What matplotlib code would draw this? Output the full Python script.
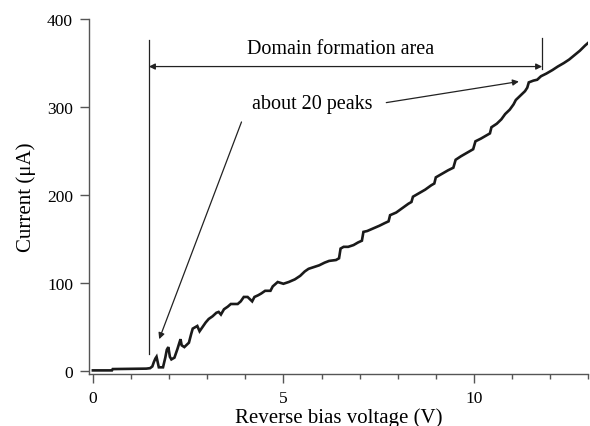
import matplotlib
matplotlib.use("Agg")
import matplotlib.pyplot as plt

# I-V sweep under reverse bias (V, uA)
voltage = [0.00, 0.50, 0.52, 1.40, 1.50, 1.56, 1.60, 1.64, 1.67, 1.70, 1.73, 1.84,
           1.90, 1.94, 1.98, 2.02, 2.06, 2.14, 2.22, 2.27, 2.30, 2.33, 2.40, 2.52,
           2.58, 2.62, 2.70, 2.74, 2.80, 2.88, 2.96, 3.04, 3.14, 3.24, 3.30, 3.36,
           3.44, 3.54, 3.62, 3.80, 3.88, 3.96, 4.06, 4.18, 4.24, 4.34, 4.42, 4.52,
           4.66, 4.72, 4.85, 5.00, 5.14, 5.30, 5.44, 5.56, 5.66, 5.80, 5.94, 6.08,
           6.20, 6.38, 6.46, 6.50, 6.58, 6.70, 6.84, 6.96, 7.06, 7.10, 7.20, 7.36,
           7.52, 7.66, 7.76, 7.80, 7.96, 8.12, 8.28, 8.36, 8.40, 8.56, 8.72, 8.88,
           8.96, 9.00, 9.16, 9.32, 9.46, 9.52, 9.66, 9.82, 9.98, 10.04, 10.18,
           10.34, 10.42, 10.46, 10.60, 10.72, 10.82, 10.94, 11.04, 11.10, 11.22,
           11.34, 11.40, 11.44, 11.56, 11.66, 11.76, 11.90, 12.06, 12.20, 12.36,
           12.50, 12.64, 12.78, 12.92, 13.00]
current = [0.5, 0.5, 2, 2.5, 3, 5, 10, 14, 16, 10, 4, 4,
           15, 24, 27, 16, 13, 15, 25, 32, 36, 29, 27, 32,
           42, 48, 50, 51, 45, 50, 55, 59, 62, 66, 67, 64,
           70, 73, 76, 76, 79, 84, 84, 79, 84, 86, 88, 91,
           91, 96, 101, 99, 101, 104, 108, 113, 116, 118, 120, 123,
           125, 126, 128, 139, 141, 141, 143, 146, 148, 158, 159, 162,
           165, 168, 170, 177, 180, 185, 190, 192, 198, 202, 206, 211,
           213, 220, 224, 228, 231, 240, 244, 248, 252, 261, 264,
           268, 270, 277, 281, 286, 292, 297, 303, 308, 313,
           318, 322, 328, 330, 331, 335, 338, 342, 346, 350,
           354, 359, 364, 370, 373]

area_start = 1.47
area_end = 11.79

plt.rcParams['font.family'] = ['Liberation Serif', 'DejaVu Serif']

fig = plt.figure(figsize=(5.9, 4.27), dpi=100)
ax = fig.add_axes([0.151, 0.122, 0.846, 0.831])

ax.plot(voltage, current, color='#1a1a1a', lw=1.9, solid_joinstyle='miter')

ax.set_xlim(-0.1, 13.0)
ax.set_ylim(-3.5, 400)
ax.set_xticks([0, 5, 10])
ax.set_xticks(range(0, 14), minor=True)
ax.set_yticks([0, 100, 200, 300, 400])

for s in ['top', 'right']:
    ax.spines[s].set_visible(False)
for s in ['left', 'bottom']:
    ax.spines[s].set_color('#555555')
    ax.spines[s].set_linewidth(1.0)
ax.tick_params(which='major', direction='out', length=6.5, width=1.0,
               color='#555555', labelsize=12.5, pad=5)
ax.tick_params(which='minor', direction='out', length=3.5, width=1.0,
               color='#555555')

ax.set_xlabel('Reverse bias voltage (V)', fontsize=15, labelpad=1)
ax.set_ylabel('Current (\u03bcA)', fontsize=15, labelpad=8)

# domain formation area markers
ax.plot([area_start, area_start], [19, 376], color='#222222', lw=0.9)
ax.plot([area_end, area_end], [343, 378], color='#222222', lw=0.9)
ax.annotate('', xy=(area_start, 346), xytext=(area_end, 346),
            arrowprops=dict(arrowstyle='<|-|>', color='#222222', lw=0.9,
                            mutation_scale=9, shrinkA=0, shrinkB=0))
ax.text(6.5, 366, 'Domain formation area', fontsize=14.5,
        ha='center', va='center')

ax.text(5.76, 304, 'about 20 peaks', fontsize=14.5, ha='center', va='center')
ax.annotate('', xy=(1.74, 36), xytext=(3.9, 283),
            arrowprops=dict(arrowstyle='-|>', color='#222222', lw=0.9,
                            mutation_scale=9, shrinkA=0, shrinkB=0))
ax.annotate('', xy=(11.18, 329), xytext=(7.7, 305),
            arrowprops=dict(arrowstyle='-|>', color='#222222', lw=0.9,
                            mutation_scale=9, shrinkA=0, shrinkB=0))

fig.savefig('out.png', dpi=100)
